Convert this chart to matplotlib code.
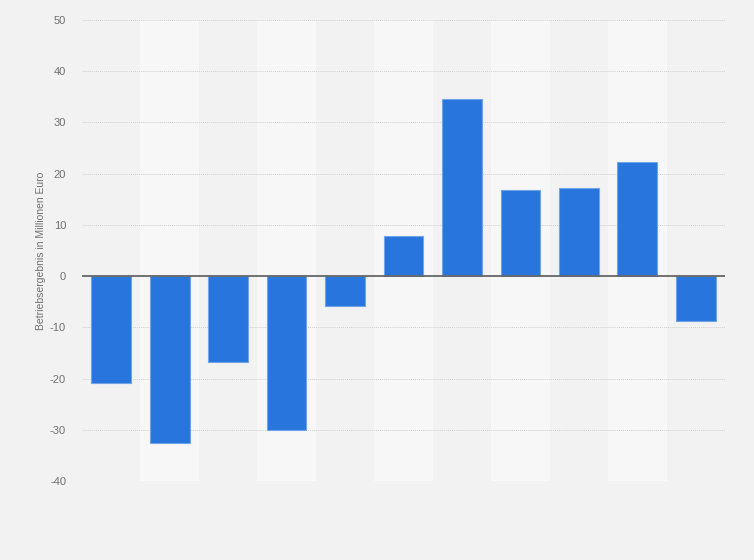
import matplotlib
matplotlib.use("Agg")
import matplotlib.pyplot as plt
import numpy as np

plt.rcParams['font.family'] = ['Liberation Sans', 'DejaVu Sans']

# values (years not labelled in the reference)
categories = list(range(11))
values = [-20.9, -32.6, -16.8, -30.1, -5.9, 7.8, 34.6, 16.8, 17.2, 22.3, -8.8]
y_ticks = [50, 40, 30, 20, 10, 0, -10, -20, -30, -40]
y_label = "Betriebsergebnis in Millionen Euro"

fig = plt.figure(figsize=(7.54, 5.6), dpi=100)
fig.patch.set_facecolor('#f2f2f2')
ax = fig.add_axes([82 / 754, 1 - 481 / 560, (725 - 82) / 754, (481 - 20) / 560])
ax.set_facecolor('#f2f2f2')

x = np.arange(len(categories))

# alternating column bands
for i in x:
    if i % 2 == 1:
        ax.axvspan(i - 0.5, i + 0.5, color='#f7f7f7', zorder=0, lw=0)

for t in y_ticks:
    if t != 0:
        ax.axhline(t, color='#d0d0d0', lw=0.7, ls=(0, (1, 1)), zorder=1)

ax.bar(x, values, width=0.68, color='#2876dd', edgecolor='#6fa3ea',
       linewidth=0.8, zorder=2)
ax.axhline(0, color='#666666', lw=1.3, zorder=3)

ax.set_xlim(-0.5, len(categories) - 0.5)
ax.set_ylim(-40, 50)
ax.set_yticks(y_ticks)
ax.set_yticklabels([str(t) for t in y_ticks])
ax.set_xticks([])
ax.tick_params(axis='y', length=0, pad=11.5, labelsize=8, labelcolor='#707070')
for s in ax.spines.values():
    s.set_visible(False)

ax.set_ylabel(y_label, fontsize=7.5, color='#707070', labelpad=3)

fig.savefig('out.png', dpi=100, facecolor=fig.get_facecolor())
